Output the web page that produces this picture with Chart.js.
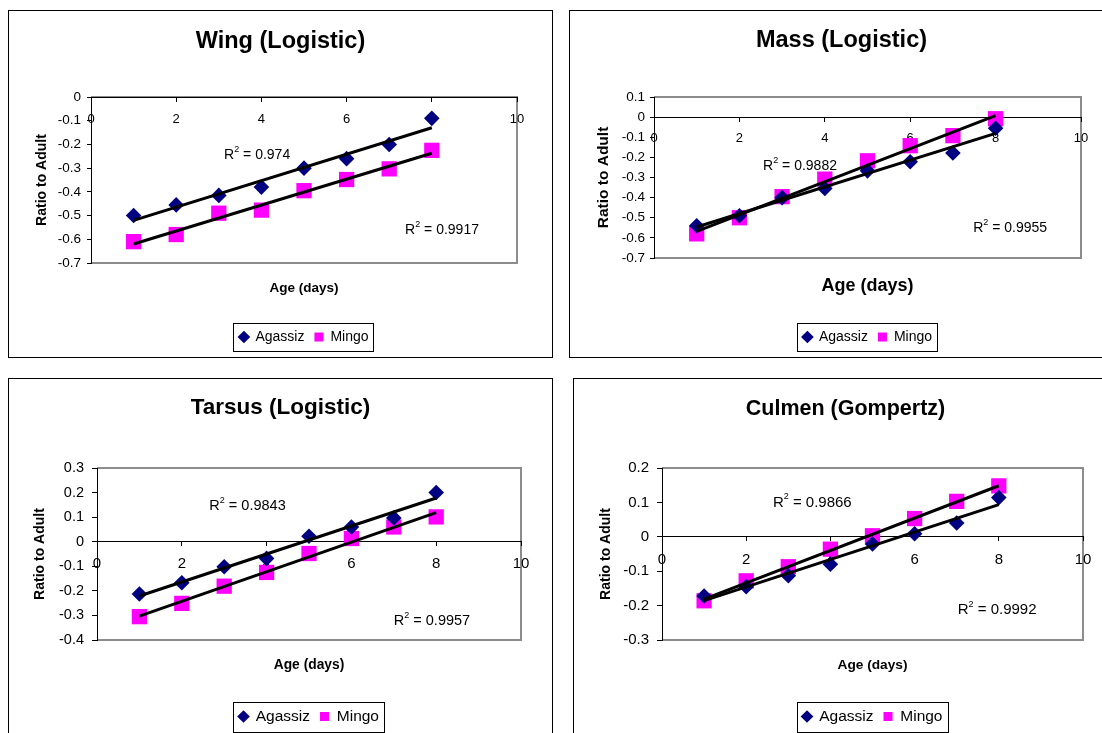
<!DOCTYPE html>
<html>
<head>
<meta charset="utf-8">
<script src="https://cdn.jsdelivr.net/npm/chart.js@4.4.1/dist/chart.umd.min.js"></script>
<style>
html,body{margin:0;padding:0;background:#fff;}
body{width:1102px;height:733px;overflow:hidden;position:relative;}
.panel{position:absolute;border:1px solid #000;background:#fff;}
.panel canvas{display:block;}
</style>
</head>
<body>
<div class="panel" style="left:8px;top:10px;width:543px;height:346px"><canvas id="c1" width="543" height="346"></canvas></div>
<div class="panel" style="left:569px;top:10px;width:543px;height:346px"><canvas id="c2" width="543" height="346"></canvas></div>
<div class="panel" style="left:8px;top:378px;width:543px;height:358px"><canvas id="c3" width="543" height="358"></canvas></div>
<div class="panel" style="left:573px;top:378px;width:543px;height:358px"><canvas id="c4" width="543" height="358"></canvas></div>
<script>
// ---- data ----
const ages = [1, 2, 3, 4, 5, 6, 7, 8];
const seriesNames = ['Agassiz', 'Mingo'];

const wingAgassiz = [-0.50, -0.455, -0.415, -0.38, -0.30, -0.26, -0.20, -0.09];
const wingMingo   = [-0.61, -0.58, -0.49, -0.477, -0.395, -0.348, -0.303, -0.225];

const massAgassiz = [-0.54, -0.49, -0.40, -0.355, -0.267, -0.222, -0.178, -0.055];
const massMingo   = [-0.58, -0.50, -0.395, -0.308, -0.217, -0.142, -0.092, -0.008];

const tarsusAgassiz = [-0.213, -0.167, -0.102, -0.068, 0.022, 0.060, 0.097, 0.200];
const tarsusMingo   = [-0.305, -0.251, -0.181, -0.125, -0.048, 0.013, 0.060, 0.101];

const culmenAgassiz = [-0.172, -0.145, -0.113, -0.080, -0.021, 0.009, 0.040, 0.114];
const culmenMingo   = [-0.186, -0.128, -0.087, -0.036, 0.003, 0.053, 0.103, 0.148];

const wingR2   = ['0.974', '0.9917'];
const massR2   = ['0.9882', '0.9955'];
const tarsusR2 = ['0.9843', '0.9957'];
const culmenR2 = ['0.9866', '0.9992'];

const chartTitles = ['Wing (Logistic)', 'Mass (Logistic)', 'Tarsus (Logistic)', 'Culmen (Gompertz)'];
const yAxisTitle = 'Ratio to Adult';
const xAxisTitle = 'Age (days)';
const xRange = [0, 10];
const xStep = 2;
const yStep = 0.1;
const wingRange = [-0.7, 0];
const massRange = [-0.7, 0.1];
const tarsusRange = [-0.4, 0.3];
const culmenRange = [-0.3, 0.2];

// ---- helpers ----
const FONT = "'Liberation Sans', Arial, Helvetica, sans-serif";
Chart.defaults.font.family = FONT;
Chart.defaults.color = '#000';

function points(ys) { return ages.map((a, i) => ({x: a, y: ys[i]})); }
// least-squares linear trendline through the plotted values (as the Excel trendline)
function trend(ys) {
  const n = ys.length;
  const mx = ages.reduce((s, v) => s + v, 0) / n;
  const my = ys.reduce((s, v) => s + v, 0) / n;
  let sxy = 0, sxx = 0;
  for (let i = 0; i < n; i++) { sxy += (ages[i] - mx) * (ys[i] - my); sxx += (ages[i] - mx) ** 2; }
  const b = sxy / sxx, a = my - b * mx;
  return [{x: ages[0], y: a + b * ages[0]}, {x: ages[n - 1], y: a + b * ages[n - 1]}];
}

const plotFrame = {
  id: 'plotFrame',
  beforeDraw(chart) {
    const {ctx, chartArea: a} = chart;
    ctx.save();
    ctx.strokeStyle = '#8c8c8c';
    ctx.lineWidth = 2;
    ctx.beginPath();
    ctx.moveTo(a.left, a.top); ctx.lineTo(a.right, a.top);
    ctx.lineTo(a.right, a.bottom); ctx.lineTo(a.left, a.bottom);
    ctx.stroke();
    ctx.restore();
  }
};

const r2Labels = {
  id: 'r2',
  afterDatasetsDraw(chart, args, opts) {
    const {ctx} = chart;
    const xs = chart.scales.x, ys = chart.scales.y;
    (opts.items || []).forEach(it => {
      const cx = xs.getPixelForValue(it.x), cy = ys.getPixelForValue(it.y);
      const size = opts.size;
      const main = size + 'px ' + FONT;
      const sup = Math.round(size * 0.62) + 'px ' + FONT;
      ctx.save();
      ctx.fillStyle = '#000';
      ctx.textBaseline = 'middle';
      ctx.textAlign = 'left';
      const rest = ' = ' + it.text;
      ctx.font = main;
      const wR = ctx.measureText('R').width, wRest = ctx.measureText(rest).width;
      ctx.font = sup;
      const wS = ctx.measureText('2').width;
      let x = cx - (wR + wS + wRest) / 2;
      ctx.font = main; ctx.fillText('R', x, cy); x += wR;
      ctx.font = sup; ctx.fillText('2', x, cy - size * 0.38); x += wS;
      ctx.font = main; ctx.fillText(rest, x, cy);
      ctx.restore();
    });
  }
};

const legendBox = {
  id: 'legendBox',
  afterDraw(chart) {
    const lg = chart.legend;
    if (!lg || !lg.legendHitBoxes || !lg.legendHitBoxes.length) return;
    const hb = lg.legendHitBoxes;
    const l = Math.min(...hb.map(h => h.left)) - 6;
    const r = Math.max(...hb.map(h => h.left + h.width)) + 5;
    const t = hb[0].top - 7, b = hb[0].top + hb[0].height + 7;
    const ctx = chart.ctx;
    ctx.save();
    ctx.strokeStyle = '#000';
    ctx.lineWidth = 1;
    ctx.strokeRect(Math.round(l) + 0.5, Math.round(t) + 0.5, Math.round(r - l), Math.round(b - t));
    ctx.restore();
  }
};

function buildChart(id, title, agassiz, mingo, yRange, r2, L) {
  const datasets = [
    {label: 'Agassiz trend', data: trend(agassiz), showLine: true, borderColor: '#000', borderWidth: 3,
     pointRadius: 0, order: 0, fill: false, borderCapStyle: 'butt'},
    {label: 'Mingo trend', data: trend(mingo), showLine: true, borderColor: '#000', borderWidth: 3,
     pointRadius: 0, order: 0, fill: false, borderCapStyle: 'butt'},
    {label: seriesNames[0], data: points(agassiz), pointStyle: 'rectRot', pointRadius: 7.8,
     backgroundColor: '#000080', borderColor: '#000080', pointBorderWidth: 0, order: 1},
    {label: seriesNames[1], data: points(mingo), pointStyle: 'rect', pointRadius: 10.8,
     backgroundColor: '#FF00FF', borderColor: '#FF00FF', pointBorderWidth: 0, order: 1}
  ];
  return new Chart(document.getElementById(id), {
    type: 'scatter',
    data: {datasets},
    options: {
      responsive: false,
      animation: false,
      events: [],
      layout: {padding: {left: 0, right: 0, top: 0, bottom: L.padBottom}},
      scales: {
        x: {
          type: 'linear', min: xRange[0], max: xRange[1], position: {y: 0}, z: 1,
          ticks: {stepSize: xStep, autoSkip: false, maxRotation: 0, font: {size: L.xTick}, color: '#000', padding: L.xTickPad},
          grid: {display: true, drawOnChartArea: false, tickLength: 4, color: '#000'},
          border: {display: true, color: '#000', width: 1}
        },
        y: {
          type: 'linear', position: 'left', min: yRange[0], max: yRange[1],
          ticks: {stepSize: yStep, font: {size: L.yTick}, color: '#000', padding: L.yTickPad,
                  callback: v => Math.abs(v) < 1e-9 ? '0' : Number(v).toFixed(1)},
          grid: {display: true, drawOnChartArea: false, tickLength: L.yTickLen, color: '#000'},
          border: {display: true, color: '#000', width: 1},
          title: {display: true, text: yAxisTitle, color: '#000', font: {size: L.yTitle, weight: 'bold'},
                  padding: {top: L.yTitlePad, bottom: 0}},
          afterFit: s => { s.width = L.leftW; }
        },
        xb: {
          type: 'linear', position: 'bottom', min: xRange[0], max: xRange[1],
          ticks: {display: false}, grid: {display: false, drawTicks: false}, border: {display: false},
          title: {display: true, text: xAxisTitle, color: '#000', font: {size: L.xTitle, weight: 'bold'},
                  padding: {top: 4, bottom: L.xTitlePad}},
          afterFit: s => { s.height = L.bottomH; }
        },
        yr: {
          type: 'linear', position: 'right', min: yRange[0], max: yRange[1],
          ticks: {display: false}, grid: {display: false, drawTicks: false}, border: {display: false},
          afterFit: s => { s.width = L.rightW; }
        }
      },
      plugins: {
        title: {display: true, text: title, color: '#000', font: {size: L.titleSize, weight: 'bold'},
                padding: {top: L.titleTop, bottom: L.titleBottom}},
        legend: {
          display: true, position: 'bottom', fullSize: false,
          labels: {usePointStyle: true, boxWidth: 9, boxHeight: 9, padding: 10, color: '#000',
                   font: {size: L.legendSize},
                   filter: item => seriesNames.includes(item.text)}
        },
        tooltip: {enabled: false},
        r2: {size: L.r2Size, items: [
          {x: L.r2Pos[0][0], y: L.r2Pos[0][1], text: r2[0]},
          {x: L.r2Pos[1][0], y: L.r2Pos[1][1], text: r2[1]}
        ]}
      }
    },
    plugins: [plotFrame, r2Labels, legendBox]
  });
}

buildChart('c1', chartTitles[0], wingAgassiz, wingMingo, wingRange, wingR2, {
  titleSize: 23.5, titleTop: 16.9, titleBottom: 40.9,
  leftW: 82, rightW: 35, bottomH: 57, padBottom: 3,
  yTick: 13.5, yTickLen: 4, yTickPad: 6, xTick: 13, xTickPad: 10.5,
  yTitle: 14, yTitlePad: 24.6, xTitle: 13.5, xTitlePad: 23.9,
  legendSize: 14, r2Size: 14, r2Pos: [[3.9, -0.245], [8.24, -0.561]]
});
buildChart('c2', chartTitles[1], massAgassiz, massMingo, massRange, massR2, {
  titleSize: 23.5, titleTop: 15.9, titleBottom: 41.9,
  leftW: 84, rightW: 32, bottomH: 62, padBottom: 3,
  yTick: 13.5, yTickLen: 4, yTickPad: 5, xTick: 13, xTickPad: 9,
  yTitle: 15.5, yTitlePad: 24.2, xTitle: 18, xTitlePad: 23.2,
  legendSize: 14, r2Size: 14, r2Pos: [[3.42, -0.243], [8.34, -0.55]]
});
buildChart('c3', chartTitles[2], tarsusAgassiz, tarsusMingo, tarsusRange, tarsusR2, {
  titleSize: 22.5, titleTop: 15, titleBottom: 47,
  leftW: 88, rightW: 31, bottomH: 58.75, padBottom: 2.75,
  yTick: 14.5, yTickLen: 5, yTickPad: 8, xTick: 15, xTickPad: 9,
  yTitle: 14, yTitlePad: 23.1, xTitle: 13.8, xTitlePad: 25.5,
  legendSize: 15.5, r2Size: 14.5, r2Pos: [[3.55, 0.146], [7.9, -0.324]]
});
buildChart('c4', chartTitles[3], culmenAgassiz, culmenMingo, culmenRange, culmenR2, {
  titleSize: 21.5, titleTop: 17.1, titleBottom: 46.1,
  leftW: 88, rightW: 34, bottomH: 58.75, padBottom: 2.75,
  yTick: 15, yTickLen: 5, yTickPad: 8, xTick: 15, xTickPad: 9.7,
  yTitle: 14, yTitlePad: 23.6, xTitle: 13.7, xTitlePad: 25.5,
  legendSize: 15.5, r2Size: 15, r2Pos: [[3.57, 0.0997], [7.96, -0.212]]
});
</script>
</body>
</html>
